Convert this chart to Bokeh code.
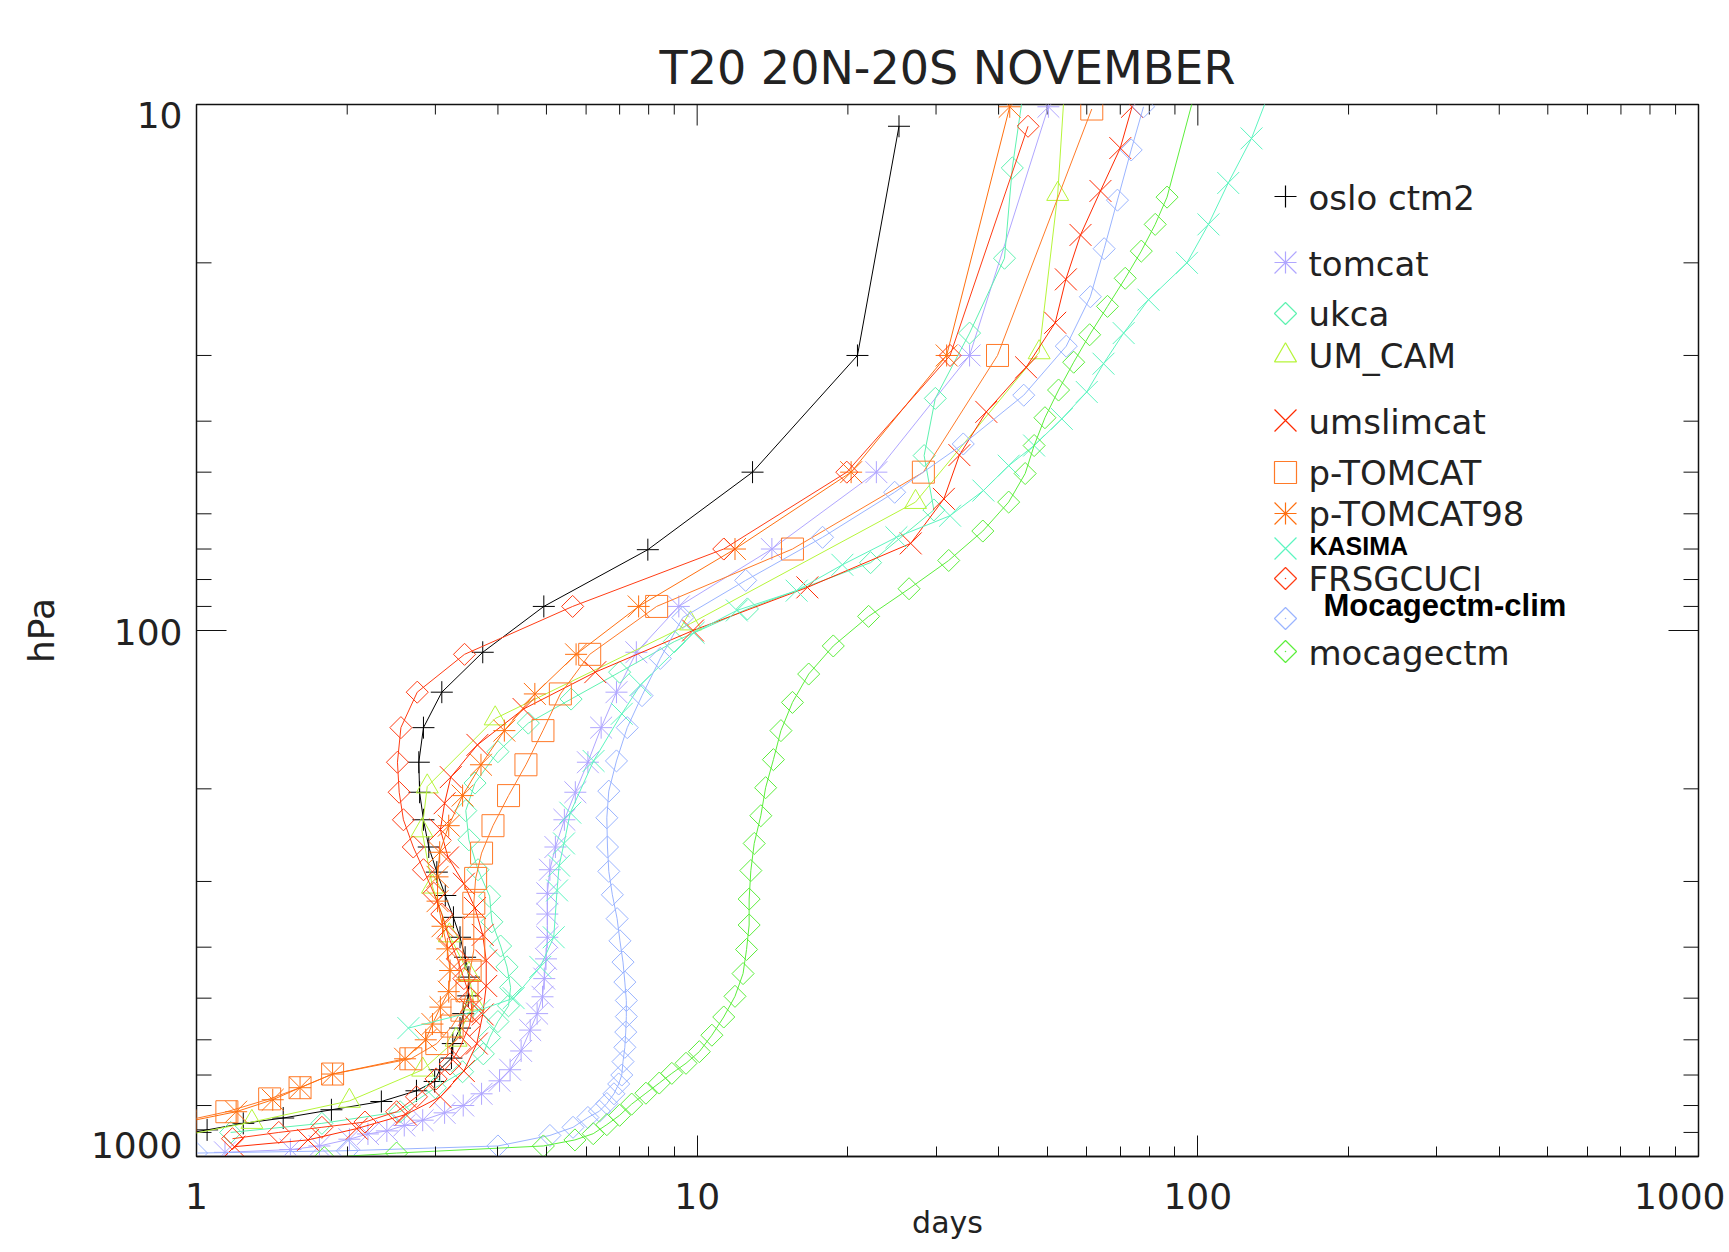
import numpy as np
from bokeh.plotting import figure
from bokeh.models import Range1d, FixedTicker, Label, BasicTickFormatter
from bokeh.embed import file_html
from bokeh.resources import INLINE

# ---------------- data (days vs hPa) ----------------
oslo_days = [25.3, 20.9, 12.9, 7.97, 4.94, 3.73, 3.09, 2.84, 2.78, 2.79, 2.84, 2.91, 3.02, 3.14, 3.26, 3.36,
             3.44, 3.50, 3.49, 3.41, 3.36, 3.25, 3.23, 3.06, 2.99, 2.75, 2.34, 1.86, 1.49, 1.24, 1.05, 0.90]
oslo_hpa = [11.0, 30.0, 50.0, 70.2, 90.0, 110, 131, 153, 178, 203, 229, 258, 288, 319, 351, 383,
            418, 456, 495, 535, 570, 610, 650, 684, 720, 750, 786, 815, 845, 865, 890, 914]

tomcat_days = [50.3, 35.0, 22.8, 14.1, 9.19, 7.56, 6.90, 6.43, 6.05, 5.71, 5.43, 5.21, 5.08, 5.02, 5.02, 5.02,
               4.99, 4.95, 4.91, 4.79, 4.64, 4.45, 4.23, 4.03, 3.71, 3.41, 3.13, 2.83, 2.60, 2.40, 2.20, 2.02,
               1.76, 1.54, 1.14]
tomcat_hpa = [10.1, 30, 50, 70, 90, 110, 131, 153, 178, 203, 229, 258, 285, 316, 346, 383,
              421, 459, 497, 535, 575, 630, 684, 718, 760, 800, 826, 853, 873, 894, 906, 927,
              955, 970, 982]

ukca_days = [49.4, 42.6, 41.1, 35.0, 29.9, 28.4, 29.7, 22.2, 12.6, 9.0, 7.0, 5.6, 4.6, 4.0, 3.6, 3.45,
             3.5, 3.65, 3.85, 3.89, 4.05, 4.17, 4.24, 4.20, 4.0, 3.85, 3.74, 3.4, 3.0, 2.55, 1.78, 1.17]
ukca_hpa = [5, 13.2, 19.6, 27.2, 36.2, 46.5, 59, 74.3, 91, 105, 120, 135, 150, 170, 195, 220,
            250, 285, 320, 358, 398, 436, 477, 517, 554, 594, 638, 690, 740, 822, 865, 900]

umcam_days = [55.0, 52.5, 48.2, 27.3, 9.7, 3.95, 2.89, 2.82, 2.96, 3.2, 3.5, 3.58, 3.3, 2.83, 2.02, 1.29, 0.90]
umcam_hpa = [7.4, 14.8, 29.6, 57, 97, 147, 198, 240, 307, 380, 450, 512, 600, 684, 784, 860, 920]

ums_days = [73.9, 70.0, 63.9, 58.3, 54.5, 51.9, 45.4, 37.8, 33.4, 31.1, 26.7, 16.6, 9.81, 6.26, 4.50, 3.64,
            3.22, 3.13, 3.07, 3.18, 3.42, 3.60, 3.73, 3.79, 3.79, 3.73, 3.63, 3.42, 3.07, 2.62, 2.09, 1.67, 1.19]
ums_hpa = [10.1, 12.1, 14.6, 17.7, 21.5, 26.0, 31.6, 38.4, 46.4, 56.2, 68.3, 82.8, 100, 120, 141, 165,
           190, 213, 239, 270, 303, 337, 379, 424, 474, 537, 610, 688, 770, 832, 885, 930, 958]

ptom_days = [61.4, 39.8, 28.3, 15.5, 8.30, 6.10, 5.33, 4.92, 4.55, 4.20, 3.91, 3.71, 3.61, 3.58, 3.58, 3.58,
             3.52, 3.47, 3.39, 3.24, 3.02, 2.68, 1.87, 1.61, 1.40, 1.15, 0.95]
ptom_hpa = [10.2, 30, 50, 70, 90, 111, 132, 155, 180, 206, 235, 265, 296, 330, 368, 405,
            443, 484, 527, 565, 610, 652, 697, 740, 777, 822, 855]

ptom98_days = [42.1, 31.5, 20.3, 11.9, 7.64, 5.73, 4.74, 4.12, 3.70, 3.40, 3.19, 3.06, 3.03, 3.03, 3.10, 3.17,
               3.21, 3.19, 3.07, 2.96, 2.87, 2.61, 1.87, 1.61, 1.42, 1.20, 0.95]
ptom98_hpa = [10.1, 30, 50, 70, 90, 111, 132, 155, 180, 206, 235, 264, 294, 327, 365, 403,
              443, 486, 520, 560, 600, 652, 697, 740, 780, 822, 860]

kas_days = [180, 128, 115, 105, 95.1, 79.7, 71.1, 64.8, 60.0, 53.5, 47.1, 41.9, 37.3, 32.0, 25.0, 19.5,
            15.8, 12.0, 9.84, 7.70, 7.07, 6.21, 5.58, 5.42, 5.30, 5.25, 5.17, 4.86, 4.3, 3.67, 2.65]
kas_hpa = [5, 11.6, 14.1, 16.9, 20.0, 23.5, 27.2, 31.1, 35.2, 39.6, 44.5, 48.6, 54.2, 60.5, 66.5, 75,
           84, 91.6, 101, 127, 144, 177, 222, 254, 280, 312, 383, 436, 500, 527, 570]

frs_days = [45.8, 32.0, 19.9, 11.3, 5.64, 3.43, 2.76, 2.56, 2.52, 2.54, 2.59, 2.71, 2.84, 2.98, 3.09, 3.19,
            3.32, 3.42, 3.53, 3.55, 3.51, 3.36, 3.21, 3.01, 2.75, 2.51, 2.17, 1.78, 1.46, 1.18]
frs_hpa = [11.0, 30, 50, 70, 90, 111, 131, 153, 178, 203, 229, 258, 285, 316, 346, 383,
           421, 459, 501, 530, 563, 620, 667, 712, 770, 822, 860, 880, 900, 925]

clim_days = [77.9, 73.6, 69.1, 65.0, 61.0, 54.6, 44.9, 34.0, 24.8, 17.8, 12.5, 9.36, 8.44, 7.76, 7.25, 6.90,
             6.66, 6.60, 6.62, 6.66, 6.77, 6.92, 7.01, 7.11, 7.17, 7.22, 7.22, 7.20, 7.17, 7.11, 7.07, 6.97,
             6.82, 6.60, 6.38, 6.05, 5.65, 5.08, 4.0, 2.0, 1.0]
clim_hpa = [10.1, 12.2, 15.2, 18.8, 23.2, 28.8, 35.7, 44.2, 54.6, 66.5, 80.3, 94.5, 113, 133, 153, 177,
            202, 227, 258, 287, 318, 353, 389, 427, 466, 505, 542, 580, 620, 660, 700, 728,
            760, 793, 820, 843, 880, 912, 955, 975, 985]

moc_days = [118, 86.8, 82.2, 77.1, 71.6, 66.0, 60.8, 56.5, 52.7, 49.5, 47.1, 45.2, 41.9, 37.2, 31.8, 26.5,
            22.0, 18.7, 16.7, 15.5, 14.7, 14.2, 13.7, 13.4, 13.0, 12.8, 12.7, 12.7, 12.55, 12.35, 11.9, 11.3,
            10.7, 10.1, 9.5, 8.9, 8.4, 7.9, 7.4, 7.0, 6.6, 6.2, 5.7, 4.93, 2.51, 1.8]
moc_hpa = [5, 15.0, 16.9, 19.0, 21.4, 24.2, 27.4, 30.9, 34.9, 39.4, 44.5, 50.3, 57, 64.7, 73.6, 83.3,
           94, 107, 121, 137, 155, 176, 199, 225, 254, 286, 324, 363, 404, 449, 496, 543,
           588, 632, 665, 695, 725, 758, 795, 835, 870, 905, 930, 955, 985, 1005]

names = ["oslo ctm2", "tomcat", "ukca", "UM_CAM", "umslimcat", "p-TOMCAT", "p-TOMCAT98",
         "KASIMA", "FRSGCUCI", "Mocagectm-clim", "mocagectm"]
series_days = [oslo_days, tomcat_days, ukca_days, umcam_days, ums_days, ptom_days, ptom98_days,
               kas_days, frs_days, clim_days, moc_days]
series_hpa = [oslo_hpa, tomcat_hpa, ukca_hpa, umcam_hpa, ums_hpa, ptom_hpa, ptom98_hpa,
              kas_hpa, frs_hpa, clim_hpa, moc_hpa]
colors = ["#000000", "#b0a6ff", "#5ef2b0", "#b6f53a", "#ff2a00", "#ff7a28", "#ff7010",
          "#5cf5c0", "#ff3c14", "#9ab4ff", "#5cee3c"]
markers = ["cross", "asterisk", "diamond", "triangle", "x", "square", "asterisk",
           "x", "diamond", "diamond", "diamond"]

x_ticks = [1, 10, 100, 1000]
y_ticks = [10, 100, 1000]
y_tick_labels = ["10", "100", "1000"]

# ---------------- layout ----------------
FONT = "DejaVu Sans"
TXT = "#222222"
W, H = 1725, 1252
ML, MT = 196, 104
FW, FH = 1502, 1052
MR, MB = W - ML - FW, H - MT - FH

p = figure(width=W, height=H, x_axis_type="log", y_axis_type="log",
           x_range=Range1d(1, 1000), y_range=Range1d(1000, 10),
           output_backend="svg", toolbar_location=None,
           min_border_left=ML, min_border_right=MR, min_border_top=MT, min_border_bottom=MB)
p.outline_line_color = "#111111"
p.outline_line_width = 1.5
p.xgrid.visible = False
p.ygrid.visible = False
p.background_fill_color = "white"
p.border_fill_color = "white"

p.title.text = "T20 20N-20S NOVEMBER"
p.title.align = "center"
p.title.text_font = FONT
p.title.text_font_size = "46px"
p.title.text_font_style = "normal"
p.title.text_color = TXT
p.title.standoff = 20


def minor_of(ticks):
    out = []
    for t in ticks[:-1]:
        out += [t * k for k in range(2, 10)]
    return out


def px2days(px):
    return 10 ** (px / FW * 3.0)


def py2hpa(py):
    return 10 ** (1 + py / FH * 2.0)


def base_style(ax):
    ax.formatter = BasicTickFormatter()
    ax.major_tick_out = 0
    ax.minor_tick_out = 0
    ax.axis_line_color = "#111111"
    ax.axis_line_width = 1.5
    ax.major_tick_line_color = "#111111"
    ax.minor_tick_line_color = "#111111"
    ax.major_tick_line_width = 1
    ax.minor_tick_line_width = 1
    ax.major_label_text_font = FONT
    ax.major_label_text_font_size = "36px"
    ax.major_label_text_color = TXT
    ax.axis_label_text_font = FONT
    ax.axis_label_text_font_style = "normal"
    ax.axis_label_text_color = TXT


# bottom axis: ticks + labels
xa = p.xaxis[0]
base_style(xa)
xa.ticker = FixedTicker(ticks=x_ticks, minor_ticks=minor_of(x_ticks))
xa.major_label_overrides = {t: str(t) for t in x_ticks}
xa.major_tick_in = 21
xa.minor_tick_in = 10
xa.major_label_standoff = 26
xa.axis_label = "days"
xa.axis_label_text_font_size = "30px"
xa.axis_label_standoff = -7

# left axis: labels only (IDL-like placement: end labels sit inside the axis span)
ya = p.yaxis[0]
base_style(ya)
label_pos = [py2hpa(10.7), py2hpa(527.8), py2hpa(FH - 11.4)]
ya.ticker = FixedTicker(ticks=label_pos, minor_ticks=[])
ya.major_label_overrides = {v: s for v, s in zip(label_pos, y_tick_labels)}
ya.major_tick_in = 0
ya.minor_tick_in = 0
ya.axis_line_color = None
ya.major_label_standoff = 14
ya.axis_label = "hPa"
ya.axis_label_text_font_size = "36px"
ya.axis_label_standoff = 26

# inward ticks: top and left/right frame edges
TK = "#111111"
xt_minor = minor_of(x_ticks)
p.segment(x0=x_ticks, y0=[10] * len(x_ticks), x1=x_ticks, y1=[py2hpa(21)] * len(x_ticks),
          line_color=TK, line_width=1)
p.segment(x0=xt_minor, y0=[10] * len(xt_minor), x1=xt_minor, y1=[py2hpa(10)] * len(xt_minor),
          line_color=TK, line_width=1)
yt_minor = minor_of(y_ticks)
for edge, inward in ((1, 1), (1000, -1)):
    p.segment(x0=[edge] * len(y_ticks), y0=y_ticks,
              x1=[px2days((0 if inward > 0 else FW) + inward * 30)] * len(y_ticks), y1=y_ticks,
              line_color=TK, line_width=1)
    p.segment(x0=[edge] * len(yt_minor), y0=yt_minor,
              x1=[px2days((0 if inward > 0 else FW) + inward * 15)] * len(yt_minor), y1=yt_minor,
              line_color=TK, line_width=1)

# ---------------- series ----------------
DIAM = 15.6   # rotated square -> 22 px diamond
XS = 31       # bokeh 'x' size giving a 22 px box


def draw_marker(d, h, c, m, lw):
    if m == "diamond":
        p.scatter(d, h, marker="square", angle=np.pi / 4, size=DIAM,
                  line_color=c, fill_color=None, line_width=lw)
    elif m == "asterisk":
        p.scatter(d, h, marker="cross", size=22, line_color=c, line_width=lw)
        p.scatter(d, h, marker="x", size=XS, line_color=c, line_width=lw)
    elif m == "x":
        p.scatter(d, h, marker="x", size=XS, line_color=c, line_width=lw)
    else:
        p.scatter(d, h, marker=m, size=22, line_color=c, fill_color=None, line_width=lw)


for d, h, c, m in zip(series_days, series_hpa, colors, markers):
    p.line(d, h, line_color=c, line_width=1)
    draw_marker(d, h, c, m, 1)

# ---------------- legend (positions in frame pixels, y measured from top) ----------------
leg_marker_x = 1089
leg_marker_y = [92, 158, 209, 251, 316, 368, 409, 444, 474, 514, 547]
leg_text_x = [1112, 1112, 1112, 1112, 1112, 1112, 1112, 1113, 1112, 1127, 1112]
leg_text_y = [93, 159, 209, 251, 317, 368, 409, 441, 474, 501, 548]
bold = [False] * 7 + [True, False, True, False]
size_px = ["34px"] * 7 + ["25px", "34px", "31px", "34px"]

for i, (nm, c, m) in enumerate(zip(names, colors, markers)):
    mx = px2days(leg_marker_x)
    my = py2hpa(leg_marker_y[i])
    draw_marker([mx], [my], c, m, 1.2)
    if m == "diamond" and nm != "ukca":
        p.scatter([mx], [my], marker="dot", size=6, line_color=c, fill_color=c)
    p.add_layout(Label(x=leg_text_x[i], y=FH - leg_text_y[i], x_units="screen", y_units="screen",
                       text=nm, text_font="Liberation Sans" if bold[i] else FONT,
                       text_font_style="bold" if bold[i] else "normal",
                       text_font_size=size_px[i], text_color="#000000" if bold[i] else TXT,
                       text_baseline="alphabetic", text_align="left"))

open("out.html", "w").write(file_html(p, INLINE))
